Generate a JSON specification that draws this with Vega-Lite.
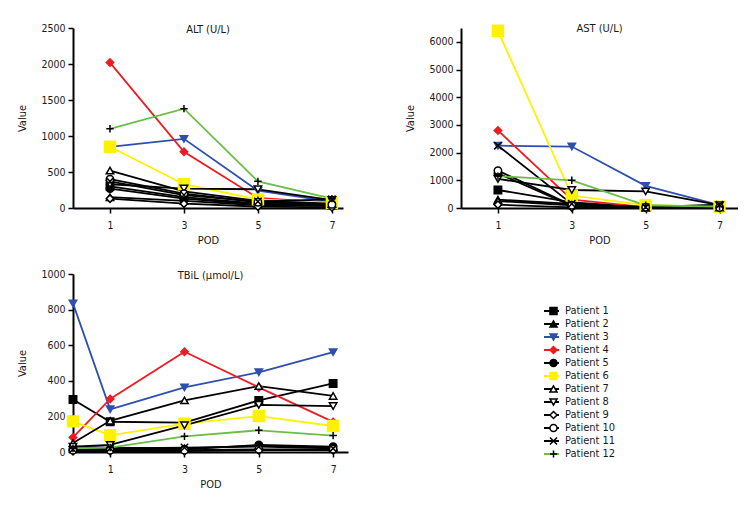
{
  "$schema": "https://vega.github.io/schema/vega-lite/v6.json",
  "background": "white",
  "padding": {"left": 16, "top": 22, "right": 0, "bottom": 0},
  "config": {
    "font": "DejaVu Sans Condensed, Liberation Sans Narrow, sans-serif",
    "view": {"stroke": null},
    "axis": {"grid": false, "domainColor": "black", "domainWidth": 2, "tickColor": "black", "tickWidth": 1.5, "tickSize": 5, "labelFontSize": 10.5, "labelColor": "#1a1a1a", "titleFontSize": 11, "titleFontWeight": "normal", "titleColor": "#1a1a1a", "labelPadding": 3, "format": "d"},
    "axisX": {"titlePadding": 4, "labelPadding": 7},
    "axisY": {"titlePadding": 13.5},
    "title": {"fontSize": 11, "fontWeight": "normal", "color": "#1a1a1a", "offset": -12, "frame": "group", "anchor": "middle"},
    "line": {"strokeWidth": 1.8},
    "point": {"filled": true, "strokeWidth": 1.5, "opacity": 1}
  },
  "datasets": {
    "alt": [
      {"p":"Patient 1","n":1,"pod":1,"v":300},{"p":"Patient 1","n":1,"pod":3,"v":150},{"p":"Patient 1","n":1,"pod":5,"v":60},{"p":"Patient 1","n":1,"pod":7,"v":40},
      {"p":"Patient 2","n":2,"pod":1,"v":150},{"p":"Patient 2","n":2,"pod":3,"v":100},{"p":"Patient 2","n":2,"pod":5,"v":40},{"p":"Patient 2","n":2,"pod":7,"v":30},
      {"p":"Patient 3","n":3,"pod":1,"v":850},{"p":"Patient 3","n":3,"pod":3,"v":960},{"p":"Patient 3","n":3,"pod":5,"v":240},{"p":"Patient 3","n":3,"pod":7,"v":90},
      {"p":"Patient 4","n":4,"pod":1,"v":2020},{"p":"Patient 4","n":4,"pod":3,"v":780},{"p":"Patient 4","n":4,"pod":5,"v":140},{"p":"Patient 4","n":4,"pod":7,"v":70},
      {"p":"Patient 5","n":5,"pod":1,"v":270},{"p":"Patient 5","n":5,"pod":3,"v":130},{"p":"Patient 5","n":5,"pod":5,"v":50},{"p":"Patient 5","n":5,"pod":7,"v":30},
      {"p":"Patient 6","n":6,"pod":1,"v":850},{"p":"Patient 6","n":6,"pod":3,"v":330},{"p":"Patient 6","n":6,"pod":5,"v":120},{"p":"Patient 6","n":6,"pod":7,"v":70},
      {"p":"Patient 7","n":7,"pod":1,"v":520},{"p":"Patient 7","n":7,"pod":3,"v":230},{"p":"Patient 7","n":7,"pod":5,"v":100},{"p":"Patient 7","n":7,"pod":7,"v":60},
      {"p":"Patient 8","n":8,"pod":1,"v":330},{"p":"Patient 8","n":8,"pod":3,"v":270},{"p":"Patient 8","n":8,"pod":5,"v":260},{"p":"Patient 8","n":8,"pod":7,"v":110},
      {"p":"Patient 9","n":9,"pod":1,"v":130},{"p":"Patient 9","n":9,"pod":3,"v":60},{"p":"Patient 9","n":9,"pod":5,"v":20},{"p":"Patient 9","n":9,"pod":7,"v":10},
      {"p":"Patient 10","n":10,"pod":1,"v":400},{"p":"Patient 10","n":10,"pod":3,"v":200},{"p":"Patient 10","n":10,"pod":5,"v":80},{"p":"Patient 10","n":10,"pod":7,"v":50},
      {"p":"Patient 11","n":11,"pod":1,"v":370},{"p":"Patient 11","n":11,"pod":3,"v":180},{"p":"Patient 11","n":11,"pod":5,"v":90},{"p":"Patient 11","n":11,"pod":7,"v":120},
      {"p":"Patient 12","n":12,"pod":1,"v":1100},{"p":"Patient 12","n":12,"pod":3,"v":1380},{"p":"Patient 12","n":12,"pod":5,"v":370},{"p":"Patient 12","n":12,"pod":7,"v":130}
    ],
    "ast": [
      {"p":"Patient 1","n":1,"pod":1,"v":650},{"p":"Patient 1","n":1,"pod":3,"v":200},{"p":"Patient 1","n":1,"pod":5,"v":30},{"p":"Patient 1","n":1,"pod":7,"v":20},
      {"p":"Patient 2","n":2,"pod":1,"v":300},{"p":"Patient 2","n":2,"pod":3,"v":150},{"p":"Patient 2","n":2,"pod":5,"v":20},{"p":"Patient 2","n":2,"pod":7,"v":20},
      {"p":"Patient 3","n":3,"pod":1,"v":2250},{"p":"Patient 3","n":3,"pod":3,"v":2220},{"p":"Patient 3","n":3,"pod":5,"v":800},{"p":"Patient 3","n":3,"pod":7,"v":100},
      {"p":"Patient 4","n":4,"pod":1,"v":2800},{"p":"Patient 4","n":4,"pod":3,"v":300},{"p":"Patient 4","n":4,"pod":5,"v":30},{"p":"Patient 4","n":4,"pod":7,"v":20},
      {"p":"Patient 5","n":5,"pod":1,"v":1250},{"p":"Patient 5","n":5,"pod":3,"v":80},{"p":"Patient 5","n":5,"pod":5,"v":20},{"p":"Patient 5","n":5,"pod":7,"v":20},
      {"p":"Patient 6","n":6,"pod":1,"v":6400},{"p":"Patient 6","n":6,"pod":3,"v":450},{"p":"Patient 6","n":6,"pod":5,"v":100},{"p":"Patient 6","n":6,"pod":7,"v":50},
      {"p":"Patient 7","n":7,"pod":1,"v":250},{"p":"Patient 7","n":7,"pod":3,"v":100},{"p":"Patient 7","n":7,"pod":5,"v":20},{"p":"Patient 7","n":7,"pod":7,"v":20},
      {"p":"Patient 8","n":8,"pod":1,"v":1050},{"p":"Patient 8","n":8,"pod":3,"v":650},{"p":"Patient 8","n":8,"pod":5,"v":600},{"p":"Patient 8","n":8,"pod":7,"v":100},
      {"p":"Patient 9","n":9,"pod":1,"v":120},{"p":"Patient 9","n":9,"pod":3,"v":20},{"p":"Patient 9","n":9,"pod":5,"v":10},{"p":"Patient 9","n":9,"pod":7,"v":10},
      {"p":"Patient 10","n":10,"pod":1,"v":1350},{"p":"Patient 10","n":10,"pod":3,"v":100},{"p":"Patient 10","n":10,"pod":5,"v":30},{"p":"Patient 10","n":10,"pod":7,"v":20},
      {"p":"Patient 11","n":11,"pod":1,"v":2250},{"p":"Patient 11","n":11,"pod":3,"v":150},{"p":"Patient 11","n":11,"pod":5,"v":30},{"p":"Patient 11","n":11,"pod":7,"v":120},
      {"p":"Patient 12","n":12,"pod":1,"v":1150},{"p":"Patient 12","n":12,"pod":3,"v":1000},{"p":"Patient 12","n":12,"pod":5,"v":100},{"p":"Patient 12","n":12,"pod":7,"v":50}
    ],
    "tbil": [
      {"p":"Patient 1","n":1,"pod":0,"v":295},{"p":"Patient 1","n":1,"pod":1,"v":170},{"p":"Patient 1","n":1,"pod":3,"v":165},{"p":"Patient 1","n":1,"pod":5,"v":290},{"p":"Patient 1","n":1,"pod":7,"v":385},
      {"p":"Patient 2","n":2,"pod":0,"v":30},{"p":"Patient 2","n":2,"pod":1,"v":25},{"p":"Patient 2","n":2,"pod":3,"v":20},{"p":"Patient 2","n":2,"pod":5,"v":35},{"p":"Patient 2","n":2,"pod":7,"v":25},
      {"p":"Patient 3","n":3,"pod":0,"v":835},{"p":"Patient 3","n":3,"pod":1,"v":240},{"p":"Patient 3","n":3,"pod":3,"v":363},{"p":"Patient 3","n":3,"pod":5,"v":448},{"p":"Patient 3","n":3,"pod":7,"v":561},
      {"p":"Patient 4","n":4,"pod":0,"v":82},{"p":"Patient 4","n":4,"pod":1,"v":298},{"p":"Patient 4","n":4,"pod":3,"v":563},{"p":"Patient 4","n":4,"pod":5,"v":363},{"p":"Patient 4","n":4,"pod":7,"v":169},
      {"p":"Patient 5","n":5,"pod":0,"v":20},{"p":"Patient 5","n":5,"pod":1,"v":15},{"p":"Patient 5","n":5,"pod":3,"v":15},{"p":"Patient 5","n":5,"pod":5,"v":40},{"p":"Patient 5","n":5,"pod":7,"v":30},
      {"p":"Patient 6","n":6,"pod":0,"v":172},{"p":"Patient 6","n":6,"pod":1,"v":94},{"p":"Patient 6","n":6,"pod":3,"v":159},{"p":"Patient 6","n":6,"pod":5,"v":202},{"p":"Patient 6","n":6,"pod":7,"v":146},
      {"p":"Patient 7","n":7,"pod":0,"v":50},{"p":"Patient 7","n":7,"pod":1,"v":175},{"p":"Patient 7","n":7,"pod":3,"v":290},{"p":"Patient 7","n":7,"pod":5,"v":370},{"p":"Patient 7","n":7,"pod":7,"v":315},
      {"p":"Patient 8","n":8,"pod":0,"v":30},{"p":"Patient 8","n":8,"pod":1,"v":40},{"p":"Patient 8","n":8,"pod":3,"v":150},{"p":"Patient 8","n":8,"pod":5,"v":265},{"p":"Patient 8","n":8,"pod":7,"v":258},
      {"p":"Patient 9","n":9,"pod":0,"v":5},{"p":"Patient 9","n":9,"pod":1,"v":5},{"p":"Patient 9","n":9,"pod":3,"v":5},{"p":"Patient 9","n":9,"pod":5,"v":10},{"p":"Patient 9","n":9,"pod":7,"v":10},
      {"p":"Patient 10","n":10,"pod":0,"v":10},{"p":"Patient 10","n":10,"pod":1,"v":10},{"p":"Patient 10","n":10,"pod":3,"v":10},{"p":"Patient 10","n":10,"pod":5,"v":15},{"p":"Patient 10","n":10,"pod":7,"v":15},
      {"p":"Patient 11","n":11,"pod":0,"v":15},{"p":"Patient 11","n":11,"pod":1,"v":20},{"p":"Patient 11","n":11,"pod":3,"v":25},{"p":"Patient 11","n":11,"pod":5,"v":30},{"p":"Patient 11","n":11,"pod":7,"v":20},
      {"p":"Patient 12","n":12,"pod":0,"v":20},{"p":"Patient 12","n":12,"pod":1,"v":25},{"p":"Patient 12","n":12,"pod":3,"v":88},{"p":"Patient 12","n":12,"pod":5,"v":122},{"p":"Patient 12","n":12,"pod":7,"v":92}
    ]
  },
  "resolve": {"scale": {"color": "independent", "shape": "independent", "fill": "independent", "stroke": "independent"}},
  "spacing": 23,
  "vconcat": [
    {
      "spacing": 61,
      "resolve": {"scale": {"color": "independent", "shape": "independent", "fill": "independent", "stroke": "independent"}},
      "hconcat": [
        {
          "data": {"name": "alt"},
          "width": 270, "height": 180,
          "title": "ALT (U/L)",
          "encoding": {
            "x": {"field": "pod", "type": "quantitative", "title": "POD", "scale": {"domain": [0, 7.3], "nice": false, "zero": false}, "axis": {"values": [1, 3, 5, 7]}},
            "y": {"field": "v", "type": "quantitative", "title": "Value", "scale": {"domain": [0, 2500], "nice": false}, "axis": {"values": [0, 500, 1000, 1500, 2000, 2500]}}
          },
          "layer": [
            {"mark": {"type": "line"}, "encoding": {"color": {"field": "p", "type": "nominal", "legend": null, "scale": {"domain": ["Patient 1","Patient 2","Patient 3","Patient 4","Patient 5","Patient 6","Patient 7","Patient 8","Patient 9","Patient 10","Patient 11","Patient 12"], "range": ["#000000","#000000","#2e4fb0","#ed1c24","#000000","#fff200","#000000","#000000","#000000","#000000","#000000","#6abd45"]}}}},
            {"mark": {"type": "point"}, "encoding": {
              "shape": {"field": "p", "type": "nominal", "legend": null, "scale": {"domain": ["Patient 1","Patient 2","Patient 3","Patient 4","Patient 5","Patient 6","Patient 7","Patient 8","Patient 9","Patient 10","Patient 11","Patient 12"], "range": ["square","triangle-up","triangle-down","diamond","circle","square","triangle-up","triangle-down","diamond","circle","M-1,-1L1,1M-1,1L1,-1","M-1,0H1M0,-1V1"]}},
              "fill": {"field": "p", "type": "nominal", "legend": null, "scale": {"domain": ["Patient 1","Patient 2","Patient 3","Patient 4","Patient 5","Patient 6","Patient 7","Patient 8","Patient 9","Patient 10","Patient 11","Patient 12"], "range": ["#000000","#000000","#2e4fb0","#ed1c24","#000000","#fff200","#ffffff","#ffffff","#ffffff","#ffffff","#000000","#000000"]}},
              "stroke": {"field": "p", "type": "nominal", "legend": null, "scale": {"domain": ["Patient 1","Patient 2","Patient 3","Patient 4","Patient 5","Patient 6","Patient 7","Patient 8","Patient 9","Patient 10","Patient 11","Patient 12"], "range": ["#000000","#000000","#2e4fb0","#ed1c24","#000000","#fff200","#000000","#000000","#000000","#000000","#000000","#000000"]}},
              "size": {"condition": {"test": "datum.p === 'Patient 6'", "value": 120}, "value": 55}
            }}
          ]
        },
        {
          "data": {"name": "ast"},
          "width": 277, "height": 180,
          "title": "AST (U/L)",
          "encoding": {
            "x": {"field": "pod", "type": "quantitative", "title": "POD", "scale": {"domain": [0, 7.5], "nice": false, "zero": false}, "axis": {"values": [1, 3, 5, 7]}},
            "y": {"field": "v", "type": "quantitative", "title": "Value", "scale": {"domain": [0, 6500], "nice": false}, "axis": {"values": [0, 1000, 2000, 3000, 4000, 5000, 6000]}}
          },
          "layer": [
            {"mark": {"type": "line"}, "encoding": {"color": {"field": "p", "type": "nominal", "legend": null, "scale": {"domain": ["Patient 1","Patient 2","Patient 3","Patient 4","Patient 5","Patient 6","Patient 7","Patient 8","Patient 9","Patient 10","Patient 11","Patient 12"], "range": ["#000000","#000000","#2e4fb0","#ed1c24","#000000","#fff200","#000000","#000000","#000000","#000000","#000000","#6abd45"]}}}},
            {"mark": {"type": "point"}, "encoding": {
              "shape": {"field": "p", "type": "nominal", "legend": null, "scale": {"domain": ["Patient 1","Patient 2","Patient 3","Patient 4","Patient 5","Patient 6","Patient 7","Patient 8","Patient 9","Patient 10","Patient 11","Patient 12"], "range": ["square","triangle-up","triangle-down","diamond","circle","square","triangle-up","triangle-down","diamond","circle","M-1,-1L1,1M-1,1L1,-1","M-1,0H1M0,-1V1"]}},
              "fill": {"field": "p", "type": "nominal", "legend": null, "scale": {"domain": ["Patient 1","Patient 2","Patient 3","Patient 4","Patient 5","Patient 6","Patient 7","Patient 8","Patient 9","Patient 10","Patient 11","Patient 12"], "range": ["#000000","#000000","#2e4fb0","#ed1c24","#000000","#fff200","#ffffff","#ffffff","#ffffff","#ffffff","#000000","#000000"]}},
              "stroke": {"field": "p", "type": "nominal", "legend": null, "scale": {"domain": ["Patient 1","Patient 2","Patient 3","Patient 4","Patient 5","Patient 6","Patient 7","Patient 8","Patient 9","Patient 10","Patient 11","Patient 12"], "range": ["#000000","#000000","#2e4fb0","#ed1c24","#000000","#fff200","#000000","#000000","#000000","#000000","#000000","#000000"]}},
              "size": {"condition": {"test": "datum.p === 'Patient 6'", "value": 120}, "value": 55}
            }}
          ]
        }
      ]
    },
    {
      "data": {"name": "tbil"},
      "width": 275, "height": 178,
      "title": "TBiL (μmol/L)",
      "encoding": {
        "x": {"field": "pod", "type": "quantitative", "title": "POD", "scale": {"domain": [0, 7.4], "nice": false, "zero": false}, "axis": {"values": [1, 3, 5, 7]}},
        "y": {"field": "v", "type": "quantitative", "title": "Value", "scale": {"domain": [0, 1000], "nice": false}, "axis": {"values": [0, 200, 400, 600, 800, 1000]}}
      },
      "layer": [
        {"mark": {"type": "line"}, "encoding": {"color": {"field": "p", "type": "nominal", "sort": {"field": "n", "op": "min"},
          "legend": {"orient": "none", "legendX": 470, "legendY": 30.5, "title": null, "padding": 0, "symbolType": "stroke", "symbolSize": 225, "symbolStrokeWidth": 1.8, "labelFontSize": 11, "labelExpr": "''", "rowPadding": 0, "clipHeight": 13, "labelOffset": 5},
          "scale": {"range": ["#000000","#000000","#2e4fb0","#ed1c24","#000000","#fff200","#000000","#000000","#000000","#000000","#000000","#6abd45"]}}}},
        {"mark": {"type": "point"}, "encoding": {
          "shape": {"field": "p", "type": "nominal", "legend": {"orient": "none", "legendX": 475, "legendY": 30.5, "title": null, "padding": 0, "symbolSize": 50, "symbolStrokeWidth": 1.5, "labelFontSize": 11, "labelColor": "#1a1a1a", "rowPadding": 0, "clipHeight": 13, "labelOffset": 6}, "scale": {"domain": ["Patient 1","Patient 2","Patient 3","Patient 4","Patient 5","Patient 6","Patient 7","Patient 8","Patient 9","Patient 10","Patient 11","Patient 12"], "range": ["square","triangle-up","triangle-down","diamond","circle","square","triangle-up","triangle-down","diamond","circle","M-1,-1L1,1M-1,1L1,-1","M-1,0H1M0,-1V1"]}},
          "fill": {"field": "p", "type": "nominal", "legend": {"orient": "none", "legendX": 475, "legendY": 30.5, "title": null, "padding": 0, "symbolSize": 50, "symbolStrokeWidth": 1.5, "labelFontSize": 11, "labelColor": "#1a1a1a", "rowPadding": 0, "clipHeight": 13, "labelOffset": 6}, "scale": {"domain": ["Patient 1","Patient 2","Patient 3","Patient 4","Patient 5","Patient 6","Patient 7","Patient 8","Patient 9","Patient 10","Patient 11","Patient 12"], "range": ["#000000","#000000","#2e4fb0","#ed1c24","#000000","#fff200","#ffffff","#ffffff","#ffffff","#ffffff","#000000","#000000"]}},
          "stroke": {"field": "p", "type": "nominal", "legend": {"orient": "none", "legendX": 475, "legendY": 30.5, "title": null, "padding": 0, "symbolSize": 50, "symbolStrokeWidth": 1.5, "labelFontSize": 11, "labelColor": "#1a1a1a", "rowPadding": 0, "clipHeight": 13, "labelOffset": 6}, "scale": {"domain": ["Patient 1","Patient 2","Patient 3","Patient 4","Patient 5","Patient 6","Patient 7","Patient 8","Patient 9","Patient 10","Patient 11","Patient 12"], "range": ["#000000","#000000","#2e4fb0","#ed1c24","#000000","#fff200","#000000","#000000","#000000","#000000","#000000","#000000"]}},
          "size": {"condition": {"test": "datum.p === 'Patient 6'", "value": 120}, "value": 55}
        }}
      ]
    }
  ]
}
